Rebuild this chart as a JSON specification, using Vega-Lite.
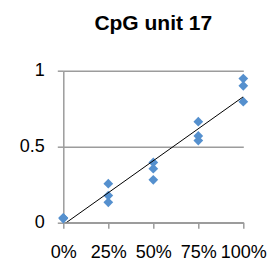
{
  "$schema": "https://vega.github.io/schema/vega-lite/v6.json",
  "autosize": "none",
  "width": 180,
  "height": 151.6,
  "padding": {"left": 63.3, "top": 70.7, "right": 26.7, "bottom": 42.7},
  "background": "white",
  "title": {"text": "CpG unit 17", "font": "Liberation Sans", "fontSize": 21, "fontWeight": "bold", "color": "#000000", "anchor": "middle", "frame": "group", "offset": 28},
  "config": {
    "view": {"stroke": null},
    "axis": {"labelFont": "Liberation Sans", "labelFontSize": 18, "labelColor": "#000000", "domainColor": "#9C9C9C", "domainWidth": 1.5, "tickColor": "#9C9C9C", "tickWidth": 1.5, "tickSize": 6, "gridColor": "#9C9C9C", "gridWidth": 1.5, "title": null}
  },
  "data": {"values": [
    {"methylation": 0, "ratio": 0.03},
    {"methylation": 0, "ratio": 0.028},
    {"methylation": 0, "ratio": 0.025},
    {"methylation": 0.25, "ratio": 0.255},
    {"methylation": 0.25, "ratio": 0.176},
    {"methylation": 0.25, "ratio": 0.132},
    {"methylation": 0.5, "ratio": 0.395},
    {"methylation": 0.5, "ratio": 0.354},
    {"methylation": 0.5, "ratio": 0.28},
    {"methylation": 0.75, "ratio": 0.664},
    {"methylation": 0.75, "ratio": 0.57},
    {"methylation": 0.75, "ratio": 0.539},
    {"methylation": 1, "ratio": 0.948},
    {"methylation": 1, "ratio": 0.9},
    {"methylation": 1, "ratio": 0.796}
  ]},
  "layer": [
    {
      "mark": {"type": "point", "shape": "diamond", "filled": true, "size": 95, "color": "#5590CE", "opacity": 1},
      "encoding": {
        "x": {"field": "methylation", "type": "quantitative", "scale": {"domain": [0, 1], "nice": false, "zero": false},
              "axis": {"values": [0, 0.25, 0.5, 0.75, 1], "format": ".0%", "grid": false, "labelPadding": 15, "labelFlush": false}},
        "y": {"field": "ratio", "type": "quantitative", "scale": {"domain": [0, 1], "nice": false},
              "axis": {"values": [0, 0.5, 1], "grid": true, "labelPadding": 13, "format": "~g"}}
      }
    },
    {
      "transform": [{"regression": "ratio", "on": "methylation", "method": "linear", "extent": [0, 1]}],
      "mark": {"type": "line", "color": "#000000", "strokeWidth": 1, "clip": true},
      "encoding": {
        "x": {"field": "methylation", "type": "quantitative"},
        "y": {"field": "ratio", "type": "quantitative"}
      }
    }
  ]
}
